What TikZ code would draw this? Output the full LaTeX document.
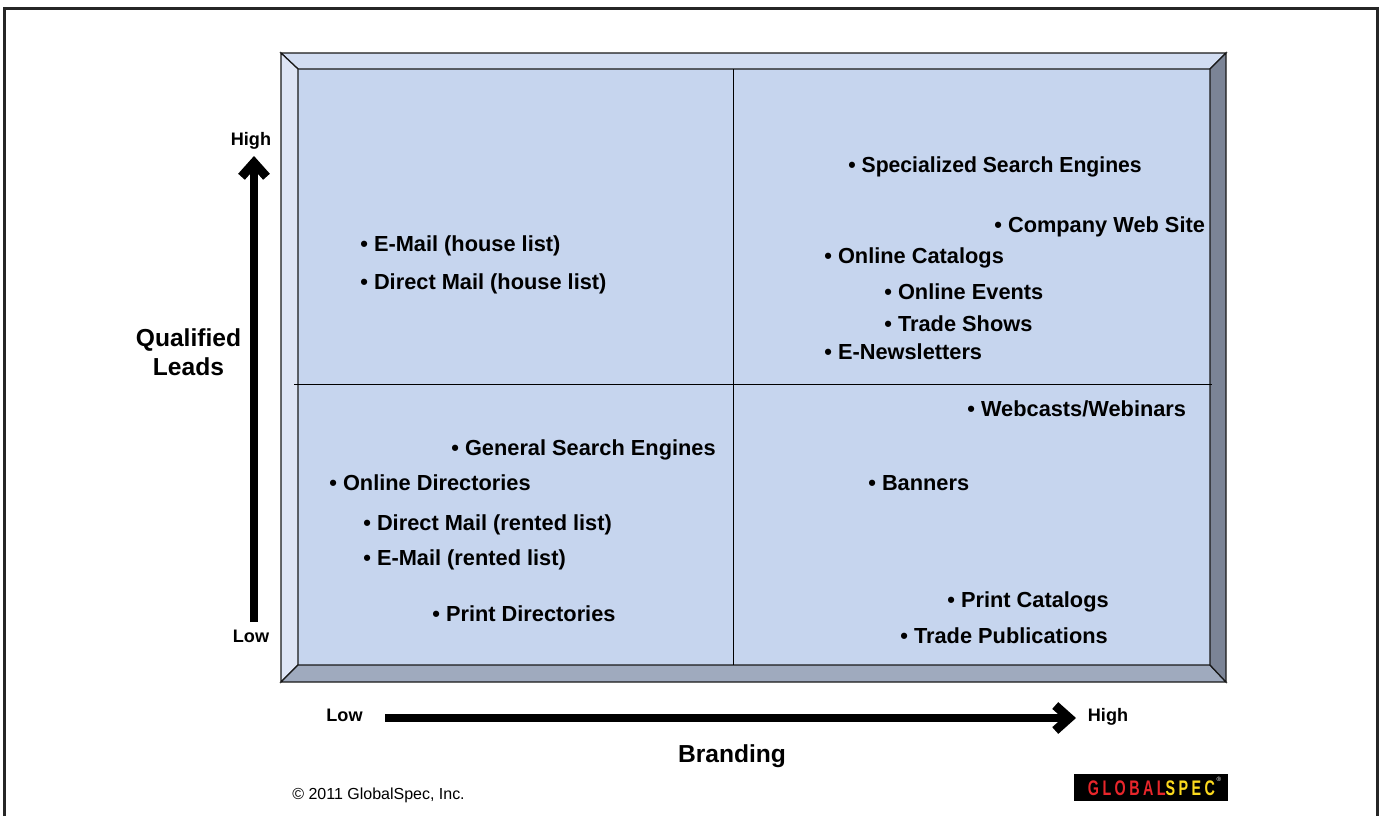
\documentclass[tikz,border=0pt]{standalone}
\usepackage{fontspec}
\setmainfont{Liberation Sans}
\usetikzlibrary{arrows.meta}
\definecolor{panelblue}{HTML}{C6D5EE}
\definecolor{bevelleft}{HTML}{DEE5F5}
\definecolor{beveltop}{HTML}{D2DDF2}
\definecolor{bevelbottom}{HTML}{9FAABE}
\definecolor{bevelright}{HTML}{7B8496}
\definecolor{logored}{HTML}{E8262B}
\definecolor{logoyellow}{HTML}{FBD91E}
\tikzset{
  item/.style={anchor=base west,inner sep=0pt,font=\fontsize{12.4}{14}\selectfont\bfseries},
  axistitle/.style={inner sep=0pt,align=center,font=\fontsize{14}{16.5}\selectfont\bfseries},
  axislabel/.style={anchor=base,inner sep=0pt,font=\fontsize{10.3}{12}\selectfont\bfseries},
  bevel/.style={draw=black!90,line width=0.025cm,line join=miter},
  bigarrow/.style={line width=0.16cm,-{Straight Barb[length=0.28cm,width=0.5cm,line width=0.18cm]}}
}
\begin{document}
\begin{tikzpicture}[x=0.02cm,y=-0.02cm]
\useasboundingbox (0,0) rectangle (1380,816);
% outer frame
\draw[line width=0.06cm,color=black!85] (4.5,816) -- (4.5,8.5) -- (1377.5,8.5) -- (1377.5,816);

% bevelled panel
\fill[panelblue] (298,69) rectangle (1210,665);
\filldraw[bevel,fill=beveltop] (281,53) -- (1226,53) -- (1210,69) -- (298,69) -- cycle;
\filldraw[bevel,fill=bevelleft] (281,53) -- (298,69) -- (298,665) -- (281,682) -- cycle;
\filldraw[bevel,fill=bevelbottom] (281,682) -- (298,665) -- (1210,665) -- (1226,682) -- cycle;
\filldraw[bevel,fill=bevelright] (1226,53) -- (1210,69) -- (1210,665) -- (1226,682) -- cycle;
\draw[line width=0.02cm] (733,69) -- (733,665);
\draw[line width=0.02cm] (294,384) -- (1212,384);

% upper left
\node[item] (i1) at (360,251) {• E-Mail (house list)};
\node[item] (i2) at (360,289) {• Direct Mail (house list)};

% upper right
\node[item] (i3) at (848,172) {\scalebox{0.972}[1]{• Specialized Search Engines}};
\node[item] (i4) at (994,232) {• Company Web Site};
\node[item] (i5) at (824,263) {• Online Catalogs};
\node[item] (i6) at (884,299) {• Online Events};
\node[item] (i7) at (884,331) {• Trade Shows};
\node[item] (i8) at (824,359) {• E-Newsletters};

% lower left
\node[item] (i9) at (451,455) {• General Search Engines};
\node[item] (i10) at (329,490) {• Online Directories};
\node[item] (i11) at (363,530) {• Direct Mail (rented list)};
\node[item] (i12) at (363,565) {• E-Mail (rented list)};
\node[item] (i13) at (432,621) {• Print Directories};

% lower right
\node[item] (i14) at (967,416) {• Webcasts/Webinars};
\node[item] (i15) at (868,490) {• Banners};
\node[item] (i16) at (947,607) {• Print Catalogs};
\node[item] (i17) at (900,643) {• Trade Publications};

% axes
\node[axislabel] (yhigh) at (251,145) {High};
\node[axislabel] (ylow) at (251,642) {Low};
\coordinate (ystart) at (254,622);
\coordinate (yend) at (254,156);
\draw[bigarrow] (ystart) -- (yend);
\node[axistitle] (ytitle) at (188.5,352.5) {Qualified\\Leads};

\node[axislabel] (xlow) at (344.5,721) {Low};
\node[axislabel] (xhigh) at (1108,721) {High};
\coordinate (xstart) at (385,718);
\coordinate (xend) at (1076,718);
\draw[bigarrow] (xstart) -- (xend);
\node[axistitle,anchor=base] (xtitle) at (732,762) {Branding};

\node[anchor=base west,inner sep=0pt,font=\fontsize{9.1}{10}\selectfont] (copy) at (292,799) {© 2011 GlobalSpec, Inc.};

% logo
\fill[black] (1074,774) rectangle (1228,801);
\node[inner sep=0pt,font=\fontsize{12}{14}\selectfont\bfseries\addfontfeature{LetterSpace=24}] (logo) at (1151.5,788) {\scalebox{0.68}[1]{\textcolor{logored}{GLOBAL}\textcolor{logoyellow}{SPEC}}};
\node[inner sep=0pt,text=white,font=\fontsize{3.5}{4}\selectfont] (reg) at (1219,779) {®};
\end{tikzpicture}
\end{document}
